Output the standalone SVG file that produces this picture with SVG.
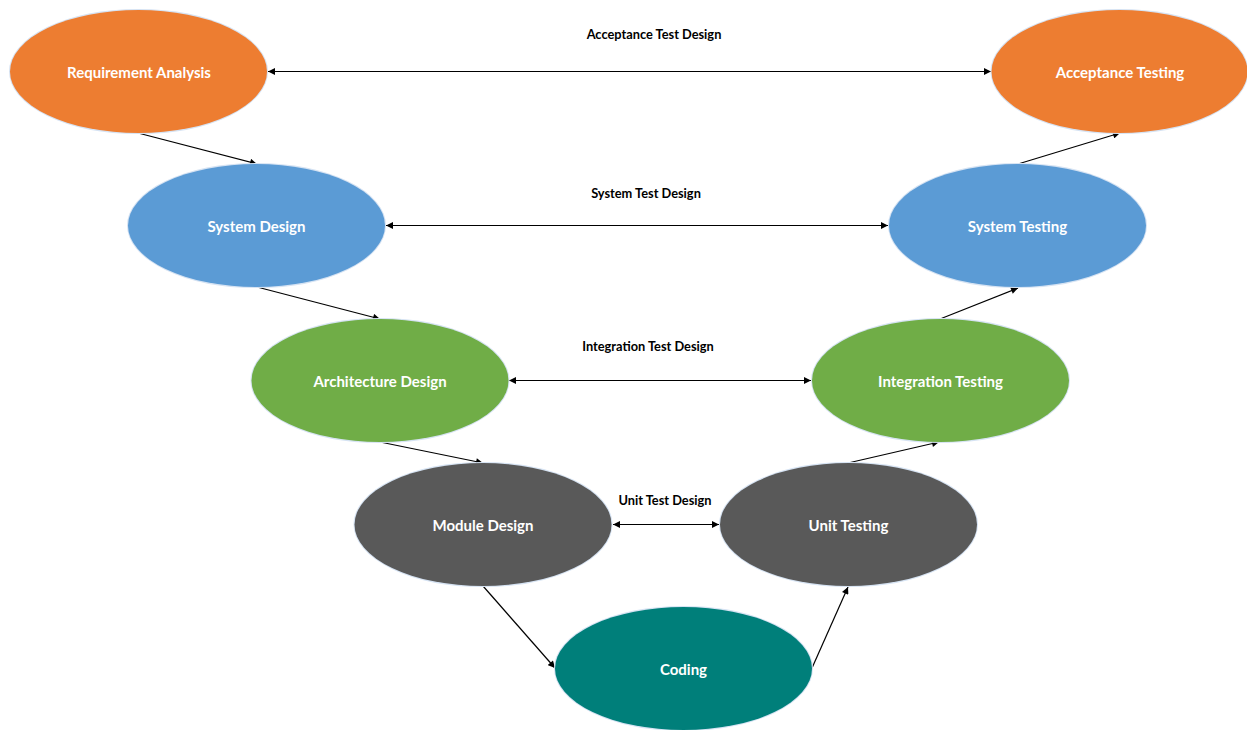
<svg xmlns="http://www.w3.org/2000/svg" width="1247" height="730" viewBox="0 0 1247 730">
  <style>
    .halo { fill: none; stroke: #d6e3f3; stroke-width: 2; }
    .node-label { font-family: Lato, "Liberation Sans", sans-serif; font-weight: bold; font-size: 15px; fill: #ffffff; text-anchor: middle; dominant-baseline: central; }
    .edge-label { font-family: Lato, "Liberation Sans", sans-serif; font-weight: bold; font-size: 12.8px; fill: #000000; text-anchor: middle; }
    .link { stroke: #000000; stroke-width: 1.2; fill: none; }
    .flow { marker-end: url(#head); }
    .both { marker-start: url(#headStart); marker-end: url(#head); }
    .orange { fill: #ED7D31; }
    .blue { fill: #5B9BD5; }
    .green { fill: #70AD47; }
    .gray { fill: #595959; }
    .teal { fill: #007F7A; }
  </style>
  <defs>
    <marker id="head" viewBox="0 0 10 10" refX="10" refY="5" markerWidth="8" markerHeight="7" markerUnits="userSpaceOnUse" orient="auto">
      <path d="M0,0 L10,5 L0,10 Z" fill="#000000"/>
    </marker>
    <marker id="headStart" viewBox="0 0 10 10" refX="0" refY="5" markerWidth="8" markerHeight="7" markerUnits="userSpaceOnUse" orient="auto">
      <path d="M10,0 L0,5 L10,10 Z" fill="#000000"/>
    </marker>
  </defs>

  <rect width="1247" height="730" fill="#ffffff"/>

  <!-- connectors -->
  <g id="connectors">
    <!-- test design links between matching levels -->
    <line class="link both" x1="268" y1="71.5" x2="991" y2="71.5"/>
    <line class="link both" x1="386" y1="225.5" x2="888" y2="225.5"/>
    <line class="link both" x1="509" y1="380.5" x2="811" y2="380.5"/>
    <line class="link both" x1="613" y1="524.5" x2="719" y2="524.5"/>
    <!-- descending design branch -->
    <line class="link flow" x1="138" y1="133" x2="257" y2="164"/>
    <line class="link flow" x1="257" y1="287" x2="380" y2="319"/>
    <line class="link flow" x1="380" y1="442" x2="483" y2="463"/>
    <line class="link flow" x1="483" y1="586" x2="555" y2="668"/>
    <!-- ascending testing branch -->
    <line class="link flow" x1="812" y1="668" x2="848" y2="587"/>
    <line class="link flow" x1="848" y1="463" x2="939" y2="442"/>
    <line class="link flow" x1="940" y1="319" x2="1018" y2="288"/>
    <line class="link flow" x1="1018" y1="164" x2="1120" y2="133"/>
  </g>

  <!-- connector labels -->
  <g id="edge-labels">
    <text class="edge-label" x="654" y="39">Acceptance Test Design</text>
    <text class="edge-label" x="646" y="198">System Test Design</text>
    <text class="edge-label" x="648" y="351">Integration Test Design</text>
    <text class="edge-label" x="665" y="505">Unit Test Design</text>
  </g>

  <!-- nodes -->
  <g id="requirement-analysis">
    <ellipse class="halo" cx="138.5" cy="71.5" rx="128.5" ry="61.5"/>
    <ellipse class="orange" cx="138.5" cy="71.5" rx="128.5" ry="61.5"/>
    <text class="node-label" x="139" y="71.5">Requirement Analysis</text>
  </g>
  <g id="acceptance-testing">
    <ellipse class="halo" cx="1119.5" cy="71.5" rx="128" ry="61.5"/>
    <ellipse class="orange" cx="1119.5" cy="71.5" rx="128" ry="61.5"/>
    <text class="node-label" x="1120" y="71.5">Acceptance Testing</text>
  </g>
  <g id="system-design">
    <ellipse class="halo" cx="256.5" cy="225.5" rx="128.5" ry="61.5"/>
    <ellipse class="blue" cx="256.5" cy="225.5" rx="128.5" ry="61.5"/>
    <text class="node-label" x="256.5" y="225.5">System Design</text>
  </g>
  <g id="system-testing">
    <ellipse class="halo" cx="1017.5" cy="225.5" rx="128.5" ry="61.5"/>
    <ellipse class="blue" cx="1017.5" cy="225.5" rx="128.5" ry="61.5"/>
    <text class="node-label" x="1017.5" y="225.5">System Testing</text>
  </g>
  <g id="architecture-design">
    <ellipse class="halo" cx="380" cy="380.5" rx="128.5" ry="61.5"/>
    <ellipse class="green" cx="380" cy="380.5" rx="128.5" ry="61.5"/>
    <text class="node-label" x="380" y="380.5">Architecture Design</text>
  </g>
  <g id="integration-testing">
    <ellipse class="halo" cx="940.5" cy="380.5" rx="128.5" ry="61.5"/>
    <ellipse class="green" cx="940.5" cy="380.5" rx="128.5" ry="61.5"/>
    <text class="node-label" x="940.5" y="380.5">Integration Testing</text>
  </g>
  <g id="module-design">
    <ellipse class="halo" cx="483" cy="524.5" rx="128.5" ry="61.5"/>
    <ellipse class="gray" cx="483" cy="524.5" rx="128.5" ry="61.5"/>
    <text class="node-label" x="483" y="524.5">Module Design</text>
  </g>
  <g id="unit-testing">
    <ellipse class="halo" cx="848.5" cy="524.5" rx="128.5" ry="61.5"/>
    <ellipse class="gray" cx="848.5" cy="524.5" rx="128.5" ry="61.5"/>
    <text class="node-label" x="848.5" y="524.5">Unit Testing</text>
  </g>
  <g id="coding">
    <ellipse class="halo" cx="683.5" cy="668.5" rx="128.5" ry="61.5"/>
    <ellipse class="teal" cx="683.5" cy="668.5" rx="128.5" ry="61.5"/>
    <text class="node-label" x="683.5" y="668.5">Coding</text>
  </g>
</svg>
